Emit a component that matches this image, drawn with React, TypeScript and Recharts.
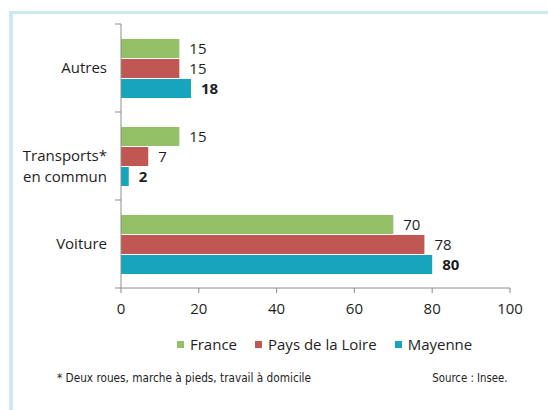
import React from 'react';
import { BarChart, Bar, XAxis, YAxis, LabelList } from 'recharts';

// categories and values (% of commuters)
const categories = ['Autres', 'Transports*\nen commun', 'Voiture'];
const france = [15, 15, 70];
const paysDeLaLoire = [15, 7, 78];
const mayenne = [18, 2, 80];
const xTicks = [0, 20, 40, 60, 80, 100];
const seriesNames = ['France', 'Pays de la Loire', 'Mayenne'];

const COLORS = ['#93bf66', '#c05753', '#17a5be'];
const AXIS = '#8c8c8c';
const TEXT = '#1e1e1e';
const FONT = '"Open Sans", "Noto Sans", sans-serif';
const NARROW = '"Liberation Sans Narrow", "DejaVu Sans Condensed", sans-serif';

const W = 548;
const H = 410;
const MARGIN = { top: 24, right: 38, left: 0, bottom: 92 };
const Y_AXIS_W = 121;
const X_AXIS_H = 30;
const PLOT_H = H - MARGIN.top - MARGIN.bottom - X_AXIS_H;
const BAND = PLOT_H / categories.length;

const data = categories.map((name, i) => ({
  name,
  france: france[i],
  pdl: paysDeLaLoire[i],
  mayenne: mayenne[i],
}));

const CategoryTick = (props: any) => {
  const { y, payload } = props;
  const lines = String(payload.value).split('\n');
  const half = BAND / 2;
  const isLast = payload.value === categories[categories.length - 1];
  const tx = Y_AXIS_W - 14;
  return (
    <g>
      <line x1={Y_AXIS_W - 6} x2={Y_AXIS_W} y1={y - half} y2={y - half} stroke={AXIS} />
      {isLast && (
        <line x1={Y_AXIS_W - 6} x2={Y_AXIS_W} y1={y + half} y2={y + half} stroke={AXIS} />
      )}
      <text x={tx} y={y} textAnchor="end" fill={TEXT} fontSize={15} fontFamily={FONT}>
        {lines.map((l, i) => (
          <tspan key={i} x={tx} dy={i === 0 ? 5 : 21}>
            {l}
          </tspan>
        ))}
      </text>
    </g>
  );
};

const noteStyle: React.CSSProperties = {
  position: 'absolute',
  top: 370,
  fontSize: 13,
  fontFamily: NARROW,
  color: TEXT,
  whiteSpace: 'nowrap',
};

export default function App() {
  const keys = ['france', 'pdl', 'mayenne'];
  return (
    <div style={{ position: 'absolute', left: 0, top: 0, width: W, height: H, background: '#fff', fontFamily: FONT }}>
      <div
        style={{
          position: 'absolute',
          left: 9,
          top: 11,
          right: 0,
          bottom: 0,
          borderLeft: '4px solid #cdeaf0',
          borderTop: '3px solid #cdeaf0',
        }}
      />
      <div style={{ position: 'absolute', left: 0, top: 0 }}>
        <BarChart
          width={W}
          height={H}
          data={data}
          layout="vertical"
          margin={MARGIN}
          barSize={19}
          barGap={1}
        >
          <XAxis
            type="number"
            domain={[0, 100]}
            ticks={xTicks}
            height={X_AXIS_H}
            axisLine={{ stroke: AXIS }}
            tickLine={{ stroke: AXIS }}
            tickSize={5}
            tickMargin={10}
            tick={{ fill: TEXT, fontSize: 15, fontFamily: FONT }}
          />
          <YAxis
            type="category"
            dataKey="name"
            width={Y_AXIS_W}
            axisLine={{ stroke: AXIS }}
            tickLine={false}
            tick={<CategoryTick />}
          />
          {keys.map((k, i) => (
            <Bar key={k} dataKey={k} fill={COLORS[i]} isAnimationActive={false}>
              <LabelList
                dataKey={k}
                position="right"
                offset={10}
                fill={TEXT}
                fontSize={15}
                fontFamily={FONT}
                fontWeight={i === 2 ? 'bold' : 'normal'}
              />
            </Bar>
          ))}
        </BarChart>
      </div>
      <div
        style={{
          position: 'absolute',
          left: 177,
          top: 334,
          display: 'flex',
          alignItems: 'center',
          fontSize: 15,
          color: TEXT,
          whiteSpace: 'nowrap',
        }}
      >
        {seriesNames.map((n, i) => (
          <div key={n} style={{ display: 'flex', alignItems: 'center', marginRight: 18 }}>
            <span style={{ display: 'inline-block', width: 7, height: 7, background: COLORS[i], marginRight: 6 }} />
            <span>{n}</span>
          </div>
        ))}
      </div>
      <div style={{ ...noteStyle, left: 57, transform: 'scaleX(0.9)', transformOrigin: 'left center' }}>
        * Deux roues, marche à pieds, travail à domicile
      </div>
      <div style={{ ...noteStyle, right: W - 508, transform: 'scaleX(0.87)', transformOrigin: 'right center' }}>
        Source : Insee.
      </div>
    </div>
  );
}
